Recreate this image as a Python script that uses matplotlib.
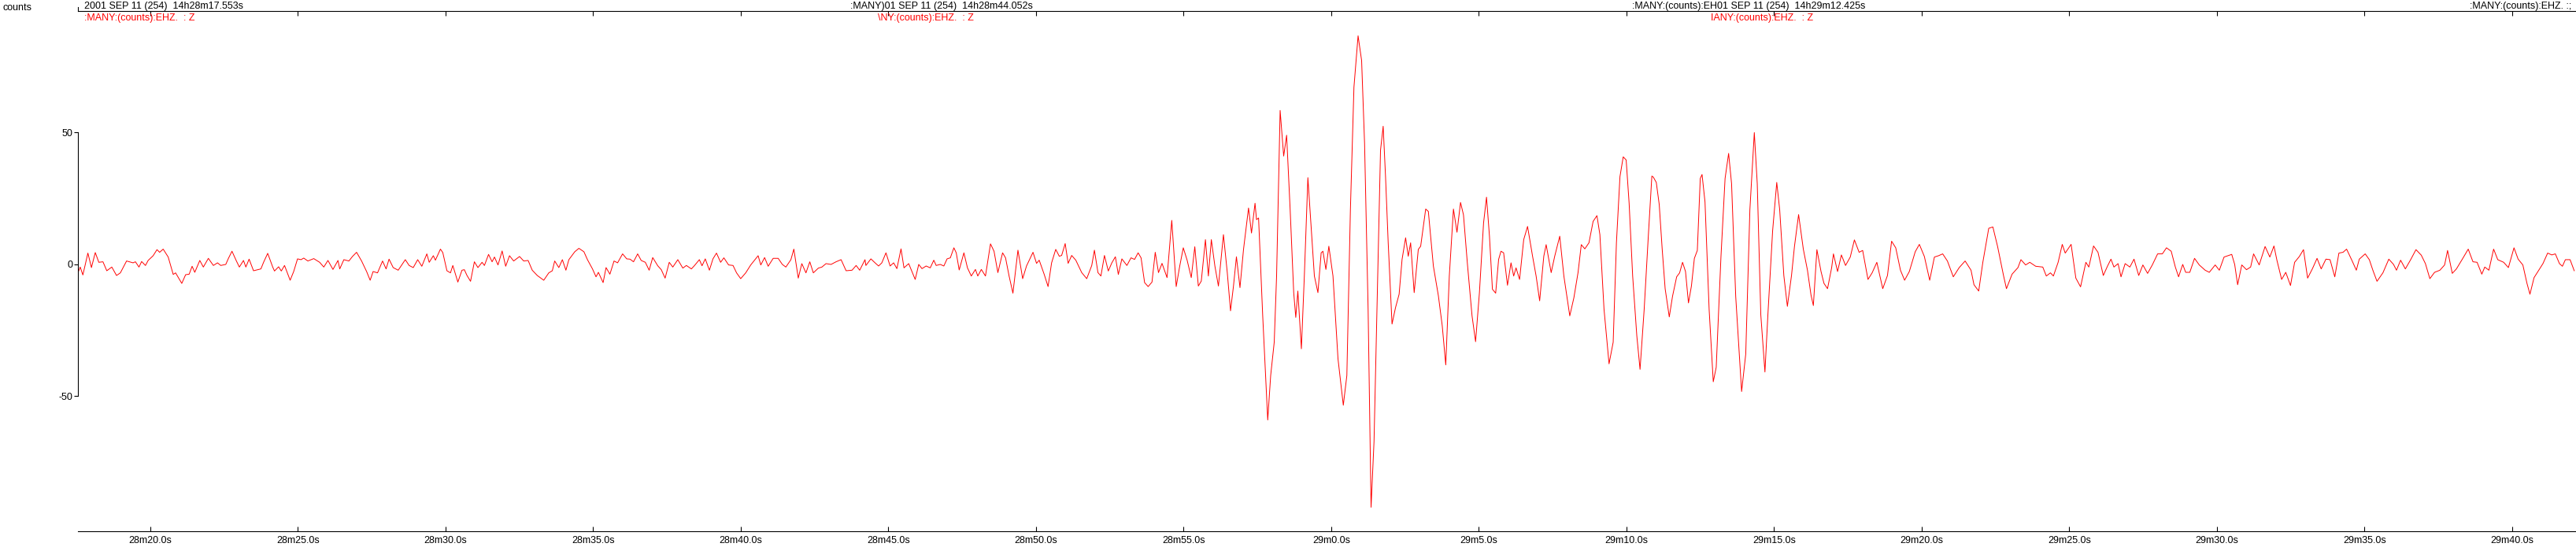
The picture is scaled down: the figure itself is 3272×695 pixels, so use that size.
import matplotlib
matplotlib.use('Agg')
import matplotlib.pyplot as plt
from matplotlib.lines import Line2D
import numpy as np

# seismogram, time in seconds after 14h28m00s, amplitude in counts
t_noise = [17.55, 17.63, 17.72, 17.89, 18.01, 18.14, 18.26, 18.40, 18.53, 18.70, 18.86, 18.99,
           19.20, 19.42, 19.50, 19.62, 19.71, 19.84, 19.93, 20.10, 20.23, 20.32, 20.44, 20.61,
           20.78, 20.86, 21.07, 21.20, 21.32, 21.42, 21.51, 21.68, 21.80, 21.97, 22.14, 22.28,
           22.39, 22.56, 22.65, 22.77, 22.92, 23.02, 23.16, 23.24, 23.35, 23.50, 23.75, 23.84,
           23.98, 24.15, 24.21, 24.35, 24.44, 24.55, 24.74, 24.86, 24.99, 25.11, 25.20, 25.34,
           25.54, 25.74, 25.88, 26.02, 26.19, 26.36, 26.42, 26.56, 26.73, 26.85, 26.99, 27.16,
           27.33, 27.45, 27.55, 27.70, 27.87, 27.99, 28.09, 28.23, 28.40, 28.64, 28.77, 28.91,
           29.06, 29.20, 29.37, 29.45, 29.59, 29.66, 29.83, 29.91, 30.05, 30.17, 30.25, 30.42,
           30.56, 30.64, 30.73, 30.85, 30.98, 31.10, 31.24, 31.32, 31.46, 31.58, 31.66, 31.78,
           31.92, 32.04, 32.17, 32.31, 32.51, 32.65, 32.80, 32.94, 33.11, 33.33, 33.50, 33.62,
           33.70, 33.84, 33.96, 34.08, 34.18, 34.38, 34.52, 34.69, 34.81, 34.98, 35.10, 35.18,
           35.34, 35.44, 35.57, 35.71, 35.83, 36.00, 36.14, 36.25, 36.37, 36.51, 36.63, 36.77,
           36.90, 37.02, 37.19, 37.31, 37.44, 37.58, 37.70, 37.87, 38.04, 38.16, 38.33, 38.43,
           38.60, 38.69, 38.80, 38.94, 39.06, 39.18, 39.32, 39.43, 39.59, 39.74, 39.86, 40.00,
           40.17, 40.34, 40.59, 40.68, 40.81, 40.93, 41.10, 41.27, 41.41, 41.53, 41.70, 41.80,
           41.95, 42.07, 42.21, 42.34, 42.46, 42.63, 42.75, 42.89, 43.06, 43.23, 43.40, 43.57,
           43.77, 43.91, 44.03, 44.21]
c_noise = [-3.2, -1.0, -4.0, 4.3, -1.2, 4.5, 0.8, 1.0, -2.4, -1.0, -4.2, -3.2,
           1.3, 0.6, 1.0, -1.0, 1.1, -0.4, 1.5, 3.3, 5.6, 4.6, 5.8, 2.8,
           -3.8, -3.2, -7.2, -3.9, -3.7, -0.7, -3.0, 1.5, -1.0, 2.3, -0.4, 0.6,
           -0.4, 0.0, 2.3, 5.0, 1.3, -1.0, 1.5, -1.0, 2.0, -2.4, -1.7, 0.8,
           4.2, -1.0, -2.5, -0.9, -2.5, -0.4, -6.0, -2.7, 2.1, 1.8, 2.4, 1.3,
           2.2, 0.8, -1.0, 1.5, -1.9, 1.5, -1.7, 1.8, 1.3, 3.0, 4.6, 1.3,
           -2.7, -6.0, -2.7, -3.2, 1.3, -1.7, 2.0, -1.2, -2.2, 1.8, -0.4, -1.2,
           1.8, -0.7, 4.0, 0.8, 3.3, 1.6, 5.8, 4.5, -2.4, -3.2, -0.4, -6.7,
           -2.2, -2.0, -4.2, -6.4, 1.0, -1.2, 0.8, -0.4, 3.8, 1.0, 2.8, -0.2,
           5.1, -0.7, 3.3, 1.3, 3.0, 1.3, 1.5, -2.2, -4.2, -6.0, -3.2, -2.4,
           1.3, -1.2, 1.8, -2.2, 1.8, 4.8, 6.1, 4.8, 1.8, -1.7, -4.7, -3.0,
           -6.9, -1.2, -3.7, 1.3, 0.6, 4.0, 2.1, 2.0, 1.0, 4.0, 1.5, 0.8,
           -2.2, 2.6, -0.5, -2.0, -5.2, 0.8, -1.0, 1.8, -1.4, -0.4, -1.7, -0.5,
           1.8, -0.5, 2.1, -2.2, 2.1, 4.3, 0.8, 2.5, -0.2, -0.4, -3.2, -5.4,
           -3.2, -0.2, 3.3, -0.2, 2.6, -0.7, 2.3, 2.3, 0.0, -1.0, 1.8, 5.8,
           -5.2, 0.3, -3.2, 1.0, -3.2, -1.4, -1.0, 0.3, 0.0, 1.0, 1.8, -2.4,
           -2.2, -0.4, -2.2, 1.8]

t_event = [44.24, 44.41, 44.55, 44.67, 44.78, 44.92, 45.06, 45.18, 45.29, 45.43, 45.53, 45.69,
           45.91, 46.03, 46.14, 46.28, 46.42, 46.54, 46.62, 46.76, 46.88, 46.99, 47.10, 47.22,
           47.30, 47.40, 47.56, 47.68, 47.81, 47.95, 48.03, 48.15, 48.29, 48.46, 48.58, 48.71,
           48.87, 48.97, 49.09, 49.22, 49.39, 49.55, 49.68, 49.90, 50.02, 50.11, 50.28, 50.41,
           50.53, 50.67, 50.79, 50.87, 50.99, 51.09, 51.21, 51.35, 51.55, 51.72, 51.89, 51.98,
           52.10, 52.20, 52.32, 52.45, 52.57, 52.69, 52.79, 52.91, 53.08, 53.22, 53.34, 53.46,
           53.56, 53.68, 53.80, 53.93, 54.04, 54.15, 54.27, 54.44, 54.60, 54.75, 54.87, 54.99,
           55.12, 55.26, 55.38, 55.50, 55.60, 55.74, 55.84, 55.94, 56.06, 56.18, 56.35, 56.48,
           56.59, 56.69, 56.79, 56.91, 57.03, 57.20, 57.30, 57.42, 57.47, 57.54, 57.68, 57.85,
           57.95, 58.07, 58.15, 58.27, 58.39, 58.49, 58.61, 58.73, 58.80, 58.87, 58.99, 59.09,
           59.21, 59.34, 59.43, 59.55, 59.66, 59.72, 59.82, 59.92, 60.06, 60.23, 60.41, 60.53,
           60.65, 60.77, 60.91, 61.03, 61.13, 61.25, 61.35, 61.45, 61.55, 61.67, 61.76, 61.84,
           61.93, 62.06, 62.18, 62.30, 62.40, 62.52, 62.61, 62.69, 62.81, 62.95, 63.03, 63.20,
           63.29, 63.46, 63.63, 63.76, 63.88, 64.00, 64.14, 64.26, 64.38, 64.48, 64.61, 64.77,
           64.89, 65.02, 65.16, 65.26, 65.36, 65.46, 65.57, 65.67, 65.75, 65.84, 65.97, 66.09,
           66.18, 66.26, 66.38, 66.52, 66.65, 66.82, 66.94, 67.06, 67.20, 67.28, 67.45, 67.57,
           67.74, 67.88, 68.08, 68.22, 68.36, 68.47, 68.59, 68.73, 68.87, 69.00, 69.10, 69.24,
           69.41, 69.55, 69.66, 69.78, 69.89, 69.99, 70.09, 70.21, 70.35, 70.46, 70.60, 70.74,
           70.86]
c_event = [-0.4, 2.1, 0.6, -0.6, 0.6, 4.4, -0.6, 0.6, -1.6, 5.9, -1.3, 0.3,
           -5.7, 0.0, -1.6, -0.6, -1.3, 1.6, -0.4, 0.0, -0.6, 2.1, 2.5, 6.3,
           4.4, -2.1, 4.4, -1.3, -4.4, -1.9, -4.4, -1.9, -4.4, 7.8, 5.0, -3.1,
           4.4, 2.5, -4.4, -10.9, 5.4, -5.4, -0.6, 4.6, 0.4, 1.6, -3.8, -8.4,
           0.6, 5.7, 3.1, 3.4, 7.9, 0.4, 3.4, 1.6, -3.1, -5.4, -0.4, 5.4,
           -3.1, -4.4, 3.4, -2.5, 0.6, 2.9, -3.8, 2.1, -0.4, 2.5, 1.9, 4.4,
           2.5, -6.9, -8.4, -6.7, 4.6, -3.1, 0.4, -5.0, 16.7, -8.4, -0.6, 6.3,
           1.6, -5.0, 6.7, -8.2, -6.3, 9.4, -4.4, 9.4, -0.6, -8.2, 11.3, -3.1,
           -17.6, -8.2, 2.9, -8.8, 5.7, 21.4, 11.9, 23.2, 17.0, 17.6, -19.5, -59.0,
           -42.1, -29.5, -4.4, 58.4, 41.1, 49.0, 20.7, -10.7, -20.1, -10.1, -32.0, -4.4,
           32.9, 10.7, -4.4, -10.7, 4.4, 5.0, -1.9, 6.9, -4.4, -35.8, -53.4, -42.1,
           20.7, 67.2, 86.7, 77.3, 45.9, -17.0, -92.1, -67.2, -17.0, 43.3, 52.4, 33.3,
           8.2, -22.6, -16.3, -11.3, 1.9, 10.1, 3.1, 8.2, -10.7, 5.7, 6.9, 21.0,
           20.1, -0.6, -11.9, -23.2, -38.1, -4.4, 21.0, 12.2, 23.5, 18.8, 0.6, -19.5,
           -29.3, -10.7, 15.7, 25.5, 10.7, -9.4, -10.9, 1.9, 5.0, 4.4, -7.9, 0.6,
           -4.4, -1.3, -5.7, 9.4, 14.4, 3.1, -4.4, -13.8, 3.1, 7.5, -3.1, 3.1,
           10.7, -4.4, -19.5, -12.6, -3.1, 7.5, 5.9, 8.2, 16.3, 18.5, 11.3, -17.0,
           -37.7, -29.5, 8.2, 33.3, 40.8, 39.6, 23.2, -4.4, -27.0, -39.8, -17.0, 10.7,
           33.5]

t_coda = [70.91, 71.01, 71.11, 71.21, 71.31, 71.45, 71.56, 71.70, 71.80, 71.90, 72.00, 72.10,
          72.20, 72.30, 72.40, 72.50, 72.56, 72.66, 72.80, 72.94, 73.04, 73.20, 73.34, 73.46,
          73.56, 73.70, 73.90, 74.04, 74.18, 74.33, 74.43, 74.55, 74.69, 74.79, 74.95, 75.09,
          75.19, 75.33, 75.45, 75.59, 75.69, 75.83, 75.99, 76.13, 76.25, 76.33, 76.45, 76.59,
          76.69, 76.81, 76.95, 77.01, 77.15, 77.28, 77.42, 77.58, 77.72, 77.88, 78.00, 78.18,
          78.32, 78.48, 78.68, 78.84, 78.98, 79.12, 79.28, 79.42, 79.58, 79.78, 79.92, 80.09,
          80.27, 80.43, 80.57, 80.71, 80.87, 81.07, 81.27, 81.47, 81.67, 81.77, 81.93, 82.07,
          82.27, 82.41, 82.57, 82.77, 82.87, 83.06, 83.26, 83.36, 83.52, 83.66, 83.86, 84.10,
          84.22, 84.36, 84.46, 84.62, 84.76, 84.86, 85.06, 85.22, 85.38, 85.56, 85.66, 85.82,
          85.97, 86.15, 86.29, 86.41, 86.51, 86.65, 86.75, 86.89, 87.05, 87.19, 87.35, 87.49,
          87.65, 87.81, 87.99, 88.15, 88.29, 88.45, 88.59, 88.70, 88.84, 88.94, 89.08, 89.24,
          89.40, 89.60, 89.74, 89.94, 90.08, 90.24, 90.50, 90.60, 90.70, 90.84, 91.00, 91.14,
          91.24, 91.43, 91.63, 91.79, 91.93, 92.03, 92.19, 92.33, 92.49, 92.63, 92.79, 92.93,
          93.07, 93.23, 93.39, 93.53, 93.69, 93.83, 93.99, 94.13, 94.27, 94.39, 94.58, 94.72,
          94.82, 95.02, 95.16, 95.28, 95.42, 95.62, 95.82, 95.98, 96.08, 96.22, 96.38, 96.56,
          96.74, 96.92, 97.06, 97.21, 97.37, 97.55, 97.71, 97.81, 97.97, 98.11, 98.31, 98.51,
          98.67, 98.81, 98.97, 99.07, 99.21, 99.37, 99.51, 99.71, 99.87, 100.06, 100.20, 100.36,
          100.50, 100.60, 100.74, 100.90, 101.04, 101.20, 101.34, 101.46, 101.60, 101.70, 101.80,
          101.96, 102.10]
c_coda = [33.1, 31.1, 22.7, 5.8, -9.2, -19.9, -12.1, -4.7, -3.2, 0.8, -2.7, -14.6,
          -8.2, 2.3, 5.3, 32.6, 34.1, 23.7, -17.1, -44.5, -39.0, 2.8, 32.6, 42.1,
          30.6, -12.1, -48.2, -34.0, 20.7, 50.0, 30.6, -19.1, -40.8, -19.1, 12.7, 31.1,
          20.7, -4.2, -15.9, -4.2, 6.8, 18.9, 5.8, -2.2, -11.6, -15.6, 5.6, -2.7,
          -7.2, -9.2, -1.2, 4.0, -2.7, 3.6, -0.4, 2.8, 9.3, 4.6, 5.3, -5.7,
          -3.2, 0.8, -9.2, -4.2, 8.8, 6.3, -2.2, -6.0, -2.7, 4.8, 7.6, 3.0,
          -6.0, 2.8, 3.3, 4.0, 1.3, -4.7, -1.2, 1.3, -2.2, -7.7, -10.1, 0.8,
          13.7, 14.2, 6.8, -4.2, -9.2, -3.7, -1.2, 1.8, -0.2, 0.8, -0.7, -1.0,
          -4.4, -3.2, -4.4, 0.8, 7.6, 4.3, 7.6, -5.2, -8.5, 0.8, -1.0, 7.0,
          4.6, -4.2, -0.7, 2.0, -1.0, 0.3, -4.7, 0.3, -1.0, 2.0, -4.2, -0.2,
          -3.4, -0.2, 4.0, 4.0, 6.3, 5.0, -1.0, -4.7, 0.0, -3.0, -3.0, 2.3,
          -0.2, -2.2, -3.0, -0.2, -2.2, 2.8, 3.8, 0.0, -7.7, -0.2, -2.0, -1.0,
          4.0, -0.2, 6.8, 2.8, 7.0, 1.6, -5.7, -3.0, -8.0, 0.8, 3.0, 5.6,
          -5.2, -1.7, 2.3, -1.7, 2.0, 1.8, -4.7, 4.3, 4.6, 5.8, 1.3, -2.2,
          2.0, 4.0, 1.8, -2.2, -6.4, -3.2, 2.0, 0.0, -2.2, 1.6, -1.7, 1.8,
          5.6, 3.5, 0.3, -5.4, -3.0, -2.2, -0.2, 5.3, -3.4, -1.7, 2.0, 5.8,
          1.0, 0.8, -3.7, -1.0, -2.2, 5.8, 1.8, 0.8, -1.2, 6.3, 2.0, -0.2,
          -7.2, -11.3, -5.0, -2.2, 0.3, 4.3, 3.6, 4.0, 0.3, -0.7, 1.8,
          1.8, -2.4]

tick_secs = [20, 25, 30, 35, 40, 45, 50, 55, 60, 65, 70, 75, 80, 85, 90, 95, 100]
tick_labels = ['28m20.0s', '28m25.0s', '28m30.0s', '28m35.0s', '28m40.0s', '28m45.0s',
               '28m50.0s', '28m55.0s', '29m0.0s', '29m5.0s', '29m10.0s', '29m15.0s',
               '29m20.0s', '29m25.0s', '29m30.0s', '29m35.0s', '29m40.0s']
ytick_vals = [-50, 0, 50]

t_start = 17.553
t_end = 102.16

# header strings as they appear (they overlap each other in the original)
headers_black = ['2001 SEP 11 (254)  14h28m17.553s',
                 ':MANY)01 SEP 11 (254)  14h28m44.052s',
                 ':MANY:(counts):EH01 SEP 11 (254)  14h29m12.425s',
                 ':MANY:(counts):EHZ. :;']
headers_red = [':MANY:(counts):EHZ.  : Z',
               '\\NY:(counts):EHZ.  : Z',
               'IANY:(counts):EHZ.  : Z']

W, H = 3272, 695
plt.rcParams['font.family'] = ['Liberation Sans', 'DejaVu Sans']

fig = plt.figure(figsize=(W / 100, H / 100), dpi=100)
ax = fig.add_axes([99 / W, 20 / H, 1 - 99 / W, 661 / H])

t = np.concatenate([t_noise, t_event, t_coda])
c = np.concatenate([c_noise, c_event, c_coda])
ax.plot(t, c, color='#ff0000', lw=0.7)

ax.set_xlim(t_start, t_end)
ax.set_ylim(-101.2, 96.1)

ax.set_xticks(tick_secs)
ax.set_xticklabels(tick_labels)
ax.set_yticks(ytick_vals)
ax.set_yticklabels([str(v) for v in ytick_vals])
ax.tick_params(axis='x', direction='in', length=4.5, width=0.8, top=True, bottom=True,
               labeltop=False, pad=4, labelsize=9)
ax.tick_params(axis='y', direction='out', length=3.8, width=0.8, pad=1, labelsize=9)

for s in ['top', 'bottom', 'left']:
    ax.spines[s].set_linewidth(0.8)
ax.spines['right'].set_visible(False)
ax.spines['left'].set_bounds(-50, 50)

# small upward tick at the left end of the top line
fig.add_artist(Line2D([99 / W, 99 / W], [1 - 9 / H, 1 - 14 / H], transform=fig.transFigure,
                      color='k', lw=0.8))

fig.text(3 / W, 1 - 13 / H, 'counts', fontsize=9, va='baseline')

black_x = [107, 1080, 2073, 3137]
for x, s in zip(black_x, headers_black):
    fig.text(x / W, 1 - 11 / H, s, fontsize=9, va='baseline', color='k')
red_x = [107, 1115, 2173]
for x, s in zip(red_x, headers_red):
    fig.text(x / W, 1 - 17 / H, s, fontsize=9, va='top', color='#ff0000')

fig.savefig('out.png', dpi=100)
